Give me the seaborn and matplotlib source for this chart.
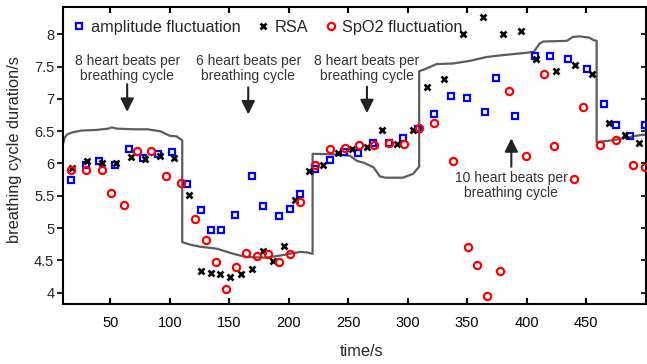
import matplotlib
matplotlib.use("Agg")
import matplotlib.pyplot as plt
import seaborn as sns
import pandas as pd

# ---- data ----
amp_t = [16.7, 29.6, 40.5, 54.3, 65.7, 77.1, 90.0, 101.9, 114.3, 126.2, 134.6, 143.0, 154.9, 169.3, 178.7,
         192.0, 200.9, 209.9, 222.3, 234.6, 246.5, 258.4, 270.8, 284.2, 296.1, 309.0, 321.8, 336.2, 349.6,
         365.4, 374.4, 390.2, 407.1, 419.5, 434.8, 450.7, 465.0, 474.9, 487.3, 499.7]
amp_v = [5.75, 5.98, 6.04, 5.98, 6.22, 6.08, 6.15, 6.18, 5.68, 5.28, 4.97, 4.97, 5.20, 5.80, 5.34,
         5.19, 5.29, 5.52, 5.91, 6.05, 6.18, 6.17, 6.32, 6.32, 6.39, 6.54, 6.77, 7.04, 7.02,
         6.80, 7.33, 6.73, 7.66, 7.66, 7.62, 7.47, 6.92, 6.59, 6.43, 6.60]

rsa_t = [18.1, 30.6, 42.8, 54.8, 67.2, 79.1, 91.8, 103.6, 116.5, 125.9, 134.4, 142.5, 150.8, 160.1, 169.1,
         178.1, 186.5, 196.0, 204.9, 217.1, 229.0, 241.6, 252.9, 265.9, 278.1, 290.9, 304.7, 316.7, 330.8,
         346.6, 363.0, 379.8, 395.2, 408.1, 424.5, 440.7, 454.6, 469.5, 482.7, 494.6]
rsa_v = [5.93, 6.04, 6.01, 6.00, 6.10, 6.07, 6.11, 6.08, 5.51, 4.33, 4.30, 4.28, 4.24, 4.28, 4.36,
         4.64, 4.49, 4.72, 5.43, 5.89, 5.98, 6.17, 6.22, 6.25, 6.52, 6.30, 6.52, 7.19, 7.31,
         8.00, 8.27, 8.00, 8.05, 7.62, 7.44, 7.53, 7.38, 6.62, 6.44, 6.32]

spo2_t = [16.7, 29.6, 43.0, 50.9, 61.3, 72.8, 84.4, 96.9, 109.8, 121.2, 130.6, 139.1, 147.0, 155.7, 164.3,
          173.2, 182.5, 191.6, 201.0, 209.4, 222.3, 234.4, 247.0, 259.4, 271.9, 284.2, 297.1, 309.7, 322.0,
          338.2, 350.6, 358.5, 366.8, 377.7, 385.3, 399.6, 414.8, 423.1, 440.0, 447.5, 461.5, 475.1, 489.3, 499.2]
spo2_v = [5.90, 5.90, 5.90, 5.55, 5.35, 6.19, 6.19, 5.81, 5.69, 5.14, 4.81, 4.47, 4.06, 4.40, 4.62,
          4.56, 4.60, 4.47, 4.60, 5.40, 5.98, 6.23, 6.24, 6.29, 6.29, 6.32, 6.30, 6.55, 6.62,
          6.04, 4.71, 4.43, 3.94, 4.34, 7.13, 6.11, 7.39, 6.27, 5.76, 6.87, 6.29, 6.37, 5.97, 5.94]

ref_t = [10, 11.7, 13.7, 17.7, 25.6, 38.5, 48.4, 51.3, 55.3, 69.2, 81.1, 92.0, 99.9, 105.8, 108.8,
         110.5, 110.5, 117.7, 125.7, 139.5, 153.4, 164.3, 181.1, 195.0, 209.4, 215.8, 220.1, 220.1, 240.2,
         251.5, 257.4, 263.4, 271.3, 276.7, 281.2, 296.1, 304.6, 309.7, 309.7, 314.4, 324.3, 338.3, 352.3,
         366.4, 380.3, 397.1, 406.1, 411.0, 414.0, 433.8, 438.8, 444.7, 452.6, 456.6, 458.9, 458.9, 472.4,
         484.3, 492.3, 500.2]
ref_v = [6.28, 6.40, 6.45, 6.48, 6.51, 6.52, 6.54, 6.56, 6.54, 6.53, 6.53, 6.50, 6.43, 6.42, 6.38,
         6.36, 4.78, 4.74, 4.71, 4.68, 4.60, 4.55, 4.54, 4.58, 4.63, 4.62, 4.60, 6.15, 6.14,
         6.12, 6.04, 6.01, 5.94, 5.80, 5.78, 5.78, 5.84, 5.95, 7.43, 7.46, 7.54, 7.55, 7.59,
         7.65, 7.68, 7.71, 7.73, 7.86, 7.89, 7.90, 7.96, 7.97, 7.95, 7.91, 7.90, 6.33, 6.36,
         6.40, 6.43, 6.45]

x_ticks = [50, 100, 150, 200, 250, 300, 350, 400, 450]
y_ticks = [4, 4.5, 5, 5.5, 6, 6.5, 7, 7.5, 8]
y_tick_labels = ["4", "4.5", "5", "5.5", "6", "6.5", "7", "7.5", "8"]

notes = ["8 heart beats per\nbreathing cycle", "6 heart beats per\nbreathing cycle",
         "8 heart beats per\nbreathing cycle", "10 heart beats per\nbreathing cycle"]
note_x = [64.2, 166.0, 265.8, 387.2]
note_text_y = [7.47, 7.47, 7.47, 5.66]
arrow_from_y = [7.23, 7.18, 7.19, 5.95]
arrow_to_y = [6.80, 6.76, 6.78, 6.39]

# ---- style ----
sns.set_style("ticks")
plt.rcParams["font.family"] = ["Liberation Sans", "DejaVu Sans"]
plt.rcParams["axes.linewidth"] = 1.5

fig = plt.figure(figsize=(6.47, 3.64), dpi=100)
ax = fig.add_axes([0.0969, 0.1662, 0.9008, 0.8137])

ref_df = pd.DataFrame({"t": ref_t, "v": ref_v})
sns.lineplot(data=ref_df, x="t", y="v", ax=ax, sort=False, estimator=None,
             color="#5c5c5c", lw=1.6, zorder=1, label="_nolegend_")

amp_df = pd.DataFrame({"t": amp_t, "v": amp_v})
rsa_df = pd.DataFrame({"t": rsa_t, "v": rsa_v})
spo_df = pd.DataFrame({"t": spo2_t, "v": spo2_v})

sns.lineplot(data=amp_df, x="t", y="v", ax=ax, sort=False, estimator=None, linestyle="",
             marker="s", ms=4.3, mfc="none", mec="#0000ff", mew=1.6, color="#0000ff",
             label="amplitude fluctuation", zorder=3)
sns.lineplot(data=rsa_df, x="t", y="v", ax=ax, sort=False, estimator=None, linestyle="",
             marker="x", ms=4.4, mec="black", mew=1.9, color="black",
             label="RSA", zorder=4)
sns.lineplot(data=spo_df, x="t", y="v", ax=ax, sort=False, estimator=None, linestyle="",
             marker="o", ms=5.2, mfc="none", mec="#ff0000", mew=1.6, color="#ff0000",
             label="SpO2 fluctuation", zorder=5)

ax.set_xlim(10, 500)
ax.set_ylim(3.83, 8.42)
ax.set_xticks(x_ticks)
ax.set_yticks(y_ticks)
ax.set_yticklabels(y_tick_labels)
ax.tick_params(axis="x", direction="in", top=True, bottom=True, length=4.5, width=1.5,
               labelsize=10.5, pad=9, colors="black")
ax.tick_params(axis="y", direction="out", left=True, right=False, length=4.5, width=1.5,
               labelsize=10.5, pad=1.5)
for s in ax.spines.values():
    s.set_visible(True)
    s.set_linewidth(1.5)
    s.set_color("black")

axr = ax.twinx()
axr.set_ylim(ax.get_ylim())
axr.set_yticks(y_ticks)
axr.tick_params(axis="y", direction="in", length=3.5, width=1.5, labelright=False)
for s in axr.spines.values():
    s.set_visible(False)

ax.set_xlabel("time/s", fontsize=11.8, va="center")
ax.set_ylabel("breathing cycle duration/s", fontsize=11.8, va="center")
ax.xaxis.set_label_coords(0.513, -0.163)
ax.yaxis.set_label_coords(-0.082, 0.52)

for txt, x, ty, y0, y1 in zip(notes, note_x, note_text_y, arrow_from_y, arrow_to_y):
    ax.text(x, ty, txt, ha="center", va="center", fontsize=10, color="#333333",
            linespacing=1.1, zorder=6)
    ax.annotate("", xy=(x, y1), xytext=(x, y0),
                arrowprops=dict(arrowstyle="-|>", mutation_scale=20, lw=1.5,
                                color="#222222", shrinkA=0, shrinkB=0), zorder=6)

ax.legend(loc="center left", bbox_to_anchor=(0.005, 0.933), ncol=3, frameon=False,
          fontsize=11.7, handlelength=0.9, handletextpad=0.25, columnspacing=0.95,
          borderaxespad=0.2, borderpad=0.2)

fig.savefig("out.png", dpi=100)
